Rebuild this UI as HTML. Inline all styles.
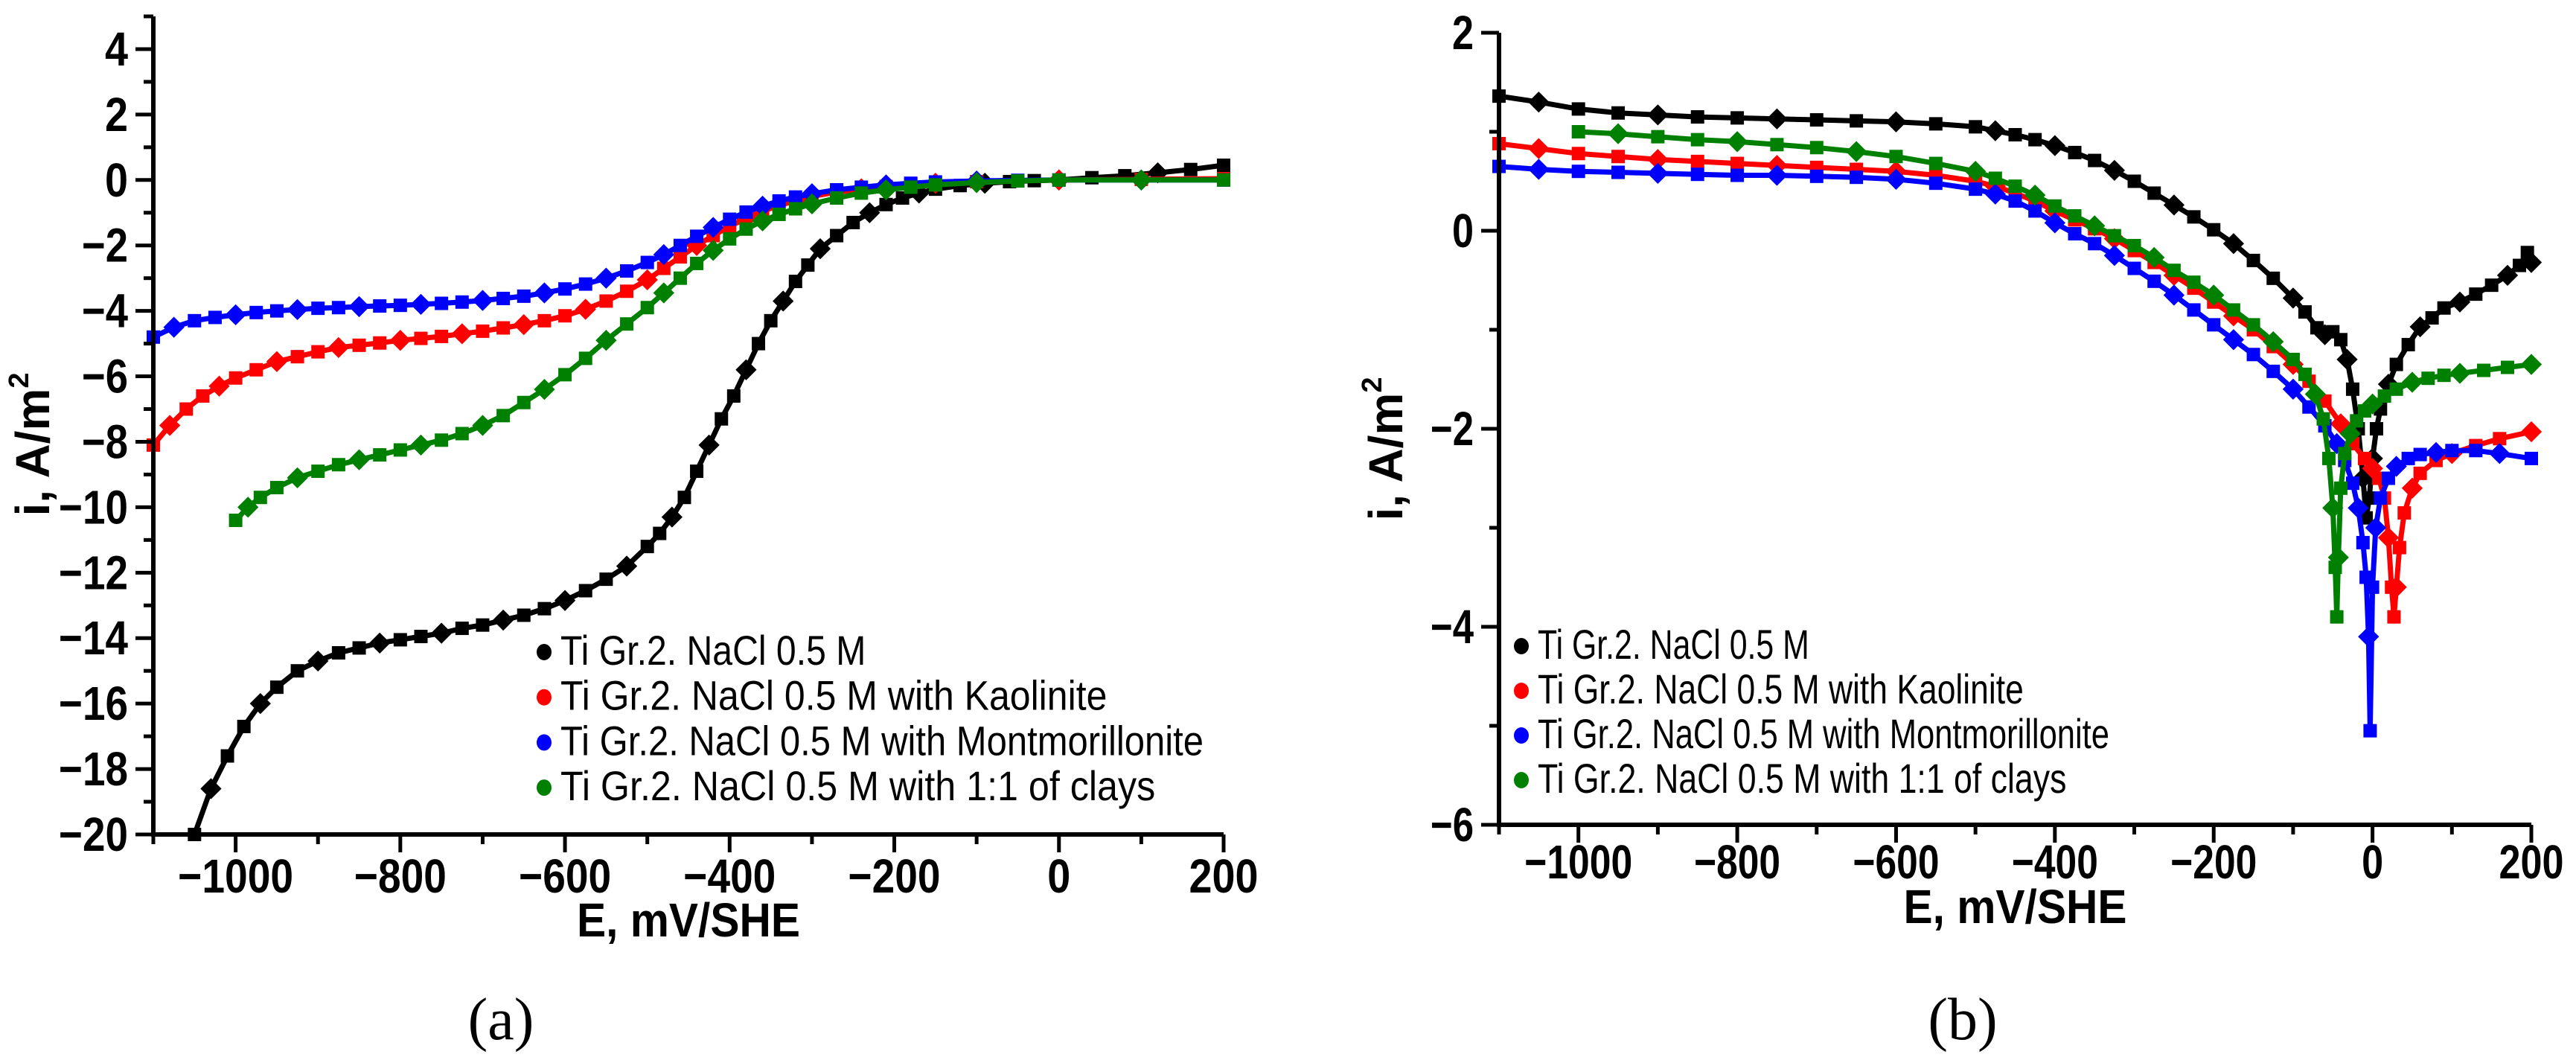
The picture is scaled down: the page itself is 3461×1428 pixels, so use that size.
<!DOCTYPE html>
<html><head><meta charset="utf-8">
<style>
html,body{margin:0;padding:0;background:#fff;}
svg{display:block;}
text{font-family:"Liberation Sans",Arial,sans-serif;}
</style></head>
<body>
<svg id="fig" width="3461" height="1428" viewBox="0 0 3461 1428" xmlns="http://www.w3.org/2000/svg">
<rect width="3461" height="1428" fill="#fff"/>
<g id="chartA"></g>
<g id="chartB"></g>
<text x="673" y="1396" font-size="80" text-anchor="middle" style="font-family:'Liberation Serif',serif">(a)</text>
<text x="2637" y="1396" font-size="80" text-anchor="middle" style="font-family:'Liberation Serif',serif">(b)</text>
</svg>
<script>
// ---- Chart (a) data ----
const aBlackE = [-1050,-1030,-1010,-990,-970,-950,-925,-900,-875,-850,-825,-800,-775,-750,-725,-700,-675,-650,-625,-600,-575,-550,-525,-500,-485,-470,-455,-440,-425,-410,-395,-380,-365,-350,-335,-320,-305,-290,-270,-250,-230,-210,-190,-170,-150,-120,-90,-60,-30,0,40,80,120,160,200];
const aBlackI = [-20,-18.6,-17.6,-16.7,-16.0,-15.5,-15.0,-14.7,-14.45,-14.3,-14.15,-14.05,-13.95,-13.85,-13.7,-13.6,-13.45,-13.3,-13.1,-12.85,-12.55,-12.2,-11.8,-11.2,-10.8,-10.3,-9.7,-8.9,-8.1,-7.3,-6.6,-5.8,-5.0,-4.3,-3.7,-3.1,-2.6,-2.1,-1.7,-1.3,-1.0,-0.75,-0.55,-0.4,-0.28,-0.17,-0.1,-0.05,-0.02,0,0.07,0.13,0.22,0.32,0.45];
const aRedE = [-1100,-1080,-1060,-1040,-1020,-1000,-975,-950,-925,-900,-875,-850,-825,-800,-775,-750,-725,-700,-675,-650,-625,-600,-575,-550,-525,-500,-480,-460,-440,-420,-400,-380,-360,-340,-320,-300,-270,-240,-210,-180,-150,-100,-50,0,100,200];
const aRedI = [-8.1,-7.5,-7.0,-6.6,-6.3,-6.05,-5.8,-5.55,-5.4,-5.25,-5.12,-5.05,-4.98,-4.9,-4.84,-4.78,-4.7,-4.62,-4.52,-4.42,-4.3,-4.15,-3.95,-3.7,-3.4,-3.05,-2.7,-2.35,-2.0,-1.7,-1.42,-1.17,-0.95,-0.78,-0.63,-0.5,-0.37,-0.27,-0.2,-0.14,-0.1,-0.05,-0.02,0,0.02,0.04];
const aBlueE = [-1100,-1075,-1050,-1025,-1000,-975,-950,-925,-900,-875,-850,-825,-800,-775,-750,-725,-700,-675,-650,-625,-600,-575,-550,-525,-500,-480,-460,-440,-420,-400,-380,-360,-340,-320,-300,-270,-240,-210,-180,-150,-100,-50,0,100,200];
const aBlueI = [-4.8,-4.5,-4.3,-4.2,-4.12,-4.05,-4.0,-3.96,-3.92,-3.9,-3.87,-3.85,-3.83,-3.8,-3.77,-3.73,-3.68,-3.62,-3.55,-3.45,-3.33,-3.18,-3.0,-2.78,-2.52,-2.28,-2.0,-1.72,-1.45,-1.2,-0.98,-0.8,-0.64,-0.52,-0.42,-0.3,-0.22,-0.15,-0.1,-0.06,-0.03,-0.01,0,0,0];
const aGreenE = [-1000,-985,-970,-950,-925,-900,-875,-850,-825,-800,-775,-750,-725,-700,-675,-650,-625,-600,-575,-550,-525,-500,-480,-460,-440,-420,-400,-380,-360,-340,-320,-300,-270,-240,-210,-180,-150,-100,-50,0,100,200];
const aGreenI = [-10.4,-10.0,-9.7,-9.4,-9.1,-8.9,-8.7,-8.55,-8.4,-8.25,-8.1,-7.95,-7.75,-7.5,-7.2,-6.8,-6.4,-5.95,-5.45,-4.9,-4.4,-3.9,-3.45,-3.0,-2.55,-2.15,-1.8,-1.5,-1.25,-1.05,-0.88,-0.73,-0.55,-0.4,-0.3,-0.22,-0.15,-0.08,-0.03,0,0,0];
const aXTicks = [-1000,-800,-600,-400,-200,0,200];
const aYTicks = [-20,-18,-16,-14,-12,-10,-8,-6,-4,-2,0,2,4];

// ---- Chart (b) data ----
const bBlackE = [-1100,-1050,-1000,-950,-900,-850,-800,-750,-700,-650,-600,-550,-500,-475,-450,-425,-400,-375,-350,-325,-300,-275,-250,-225,-200,-175,-150,-125,-100,-85,-70,-60,-50,-40,-32,-25,-18,-12,-8,-4,0,5,10,20,30,45,60,75,90,110,130,150,170,185,195,200];
const bBlackI = [1.36,1.3,1.23,1.19,1.17,1.15,1.14,1.13,1.12,1.11,1.1,1.08,1.05,1.01,0.97,0.92,0.86,0.79,0.71,0.61,0.5,0.38,0.26,0.14,0.01,-0.13,-0.3,-0.48,-0.68,-0.82,-0.98,-1.05,-1.02,-1.1,-1.3,-1.6,-2.0,-2.5,-2.9,-2.7,-2.3,-2.0,-1.8,-1.55,-1.35,-1.15,-0.97,-0.88,-0.78,-0.72,-0.64,-0.55,-0.45,-0.35,-0.22,-0.32];
const bRedE = [-1100,-1050,-1000,-950,-900,-850,-800,-750,-700,-650,-600,-550,-500,-475,-450,-425,-400,-375,-350,-325,-300,-275,-250,-225,-200,-175,-150,-125,-100,-80,-60,-40,-25,-10,0,8,15,20,24,27,30,34,40,50,60,80,100,130,160,200];
const bRedI = [0.88,0.83,0.78,0.75,0.72,0.7,0.68,0.66,0.64,0.62,0.6,0.56,0.5,0.45,0.38,0.3,0.2,0.11,0.02,-0.08,-0.2,-0.32,-0.45,-0.58,-0.72,-0.86,-1.0,-1.17,-1.35,-1.52,-1.72,-1.95,-2.15,-2.3,-2.4,-2.5,-2.7,-3.1,-3.6,-3.9,-3.6,-3.2,-2.85,-2.6,-2.45,-2.32,-2.25,-2.17,-2.1,-2.03];
const bBlueE = [-1100,-1050,-1000,-950,-900,-850,-800,-750,-700,-650,-600,-550,-500,-475,-450,-425,-400,-375,-350,-325,-300,-275,-250,-225,-200,-175,-150,-125,-100,-80,-60,-45,-35,-25,-18,-12,-8,-5,-3,0,4,10,20,30,45,60,80,100,130,160,200];
const bBlueI = [0.65,0.62,0.6,0.59,0.58,0.57,0.56,0.56,0.55,0.54,0.52,0.48,0.42,0.37,0.3,0.2,0.08,-0.03,-0.13,-0.25,-0.38,-0.51,-0.65,-0.8,-0.95,-1.1,-1.25,-1.42,-1.6,-1.78,-1.97,-2.15,-2.32,-2.55,-2.8,-3.15,-3.5,-4.1,-5.05,-3.6,-3.0,-2.7,-2.5,-2.38,-2.3,-2.26,-2.24,-2.22,-2.22,-2.25,-2.3];
const bGreenE = [-1000,-950,-900,-850,-800,-750,-700,-650,-600,-550,-500,-475,-450,-425,-400,-375,-350,-325,-300,-275,-250,-225,-200,-175,-150,-125,-100,-85,-72,-62,-55,-50,-47,-45,-43,-40,-35,-28,-20,-10,0,15,30,50,70,90,110,140,170,200];
const bGreenI = [1.0,0.98,0.95,0.92,0.9,0.87,0.84,0.8,0.75,0.68,0.6,0.53,0.45,0.36,0.25,0.15,0.05,-0.05,-0.15,-0.27,-0.4,-0.52,-0.65,-0.8,-0.95,-1.12,-1.3,-1.45,-1.65,-1.9,-2.3,-2.8,-3.4,-3.9,-3.3,-2.6,-2.25,-2.05,-1.92,-1.82,-1.75,-1.67,-1.6,-1.53,-1.49,-1.46,-1.44,-1.41,-1.38,-1.35];
const bXTicks = [-1000,-800,-600,-400,-200,0,200];
const bYTicks = [-6,-4,-2,0,2];

const legendLabels = ["Ti Gr.2. NaCl 0.5 M","Ti Gr.2. NaCl 0.5 M with Kaolinite","Ti Gr.2. NaCl 0.5 M with Montmorillonite","Ti Gr.2. NaCl 0.5 M with 1:1 of clays"];
const colors = ["#000000","#ff0000","#0000ff","#008000"];

const NS = "http://www.w3.org/2000/svg";
function mk(parent, tag, attrs){
  const el = document.createElementNS(NS, tag);
  for (const k in attrs) el.setAttribute(k, attrs[k]);
  parent.appendChild(el);
  return el;
}
function fmt(v){ return v < 0 ? "\u2212" + Math.abs(v) : String(v); }

function drawChart(g, cfg, series){
  const sx = v => cfg.x0 + (v - cfg.xmin) / (cfg.xmax - cfg.xmin) * (cfg.x1 - cfg.x0);
  const sy = v => cfg.y0 + (cfg.ymax - v) / (cfg.ymax - cfg.ymin) * (cfg.y1 - cfg.y0);
  series.forEach((s, si) => {
    const sg = mk(g, "g", {});
    
    
    let d = "";
    s.E.forEach((e, i) => { d += (i ? "L" : "M") + sx(e).toFixed(1) + " " + sy(s.I[i]).toFixed(1); });
    const p = mk(sg, "path", {d: d, fill: "none", stroke: s.color, "stroke-width": 7, "stroke-linejoin": "round"});
    
    
    s.E.forEach((e, i) => {
      const cx = sx(e), cy = sy(s.I[i]);
      const m = (i % 3 === 1)
        ? mk(sg, "rect", {x: cx - 10, y: cy - 10, width: 20, height: 20, fill: s.color, transform: "rotate(45 " + cx + " " + cy + ")"})
        : mk(sg, "rect", {x: cx - 9, y: cy - 9, width: 18, height: 18, fill: s.color});
      
      
    });
  });
  const ax = mk(g, "path", {d: "M" + cfg.x0 + " " + cfg.y0 + "V" + cfg.y1 + "H" + cfg.x1, fill: "none", stroke: "#000", "stroke-width": 6});
  
  
  for (let v = cfg.xmin; v <= cfg.xmax; v += 100) {
    const major = cfg.xTicks.indexOf(v) >= 0;
    const t = mk(g, "line", {x1: sx(v), x2: sx(v), y1: cfg.y1, y2: cfg.y1 + (major ? 24 : 13), stroke: "#000", "stroke-width": 5});
    
    
  }
  cfg.xTicks.forEach(v => {
    const s = fmt(v);
    const t = mk(g, "text", {x: sx(v), y: cfg.xLabelY, "font-size": 64, "font-weight": "bold", "text-anchor": "middle", textLength: s.length * cfg.cw, lengthAdjust: "spacingAndGlyphs"});
    t.textContent = s;
    
    
  });
  for (let v = cfg.ymin; v <= cfg.ymax + 1e-9; v += cfg.yMinorStep) {
    const major = cfg.yTicks.some(t => Math.abs(t - v) < 1e-9);
    const t = mk(g, "line", {x1: cfg.x0 - (major ? 24 : 13), x2: cfg.x0, y1: sy(v), y2: sy(v), stroke: "#000", "stroke-width": 5});
    
    
  }
  cfg.yTicks.forEach(v => {
    const s = fmt(v);
    const t = mk(g, "text", {x: cfg.x0 - 34, y: sy(v) + 22, "font-size": 64, "font-weight": "bold", "text-anchor": "end", textLength: s.length * cfg.cw, lengthAdjust: "spacingAndGlyphs"});
    t.textContent = s;
    
    
  });
  const xt = mk(g, "text", {x: (cfg.x0 + cfg.x1) / 2, y: cfg.xTitleY, "font-size": 64, "font-weight": "bold", "text-anchor": "middle", textLength: 300, lengthAdjust: "spacingAndGlyphs"});
  xt.textContent = "E, mV/SHE";
  
  
  const yt = mk(g, "text", {x: 0, y: 0, "font-size": 64, "font-weight": "bold", "text-anchor": "middle", transform: "translate(" + cfg.yTitleX + " " + cfg.yTitleY + ") rotate(-90)"});
  yt.textContent = "i, A/m";
  const sup = mk(yt, "tspan", {"font-size": 38, dy: -28});
  sup.textContent = "2";
  
  
  legendLabels.forEach((lab, i) => {
    const ly = cfg.legY + i * cfg.legStep;
    const c = mk(g, "ellipse", {cx: cfg.legX, cy: ly - 17, rx: 10, ry: 11, fill: colors[i]});
    
    
    const t = mk(g, "text", {x: cfg.legX + 22, y: ly, "font-size": 56, textLength: lab.length * cfg.legCw, lengthAdjust: "spacingAndGlyphs"});
    t.textContent = lab;
    
    
  });
}

drawChart(document.getElementById("chartA"), {
  x0: 206, x1: 1644, xmin: -1100, xmax: 200,
  y0: 22, y1: 1121, ymin: -20, ymax: 5,
  xTicks: aXTicks, yTicks: aYTicks, yMinorStep: 1,
  xLabelY: 1199, xTitleY: 1258, yTitleX: 66, yTitleY: 597, cw: 31,
  legX: 731, legY: 893, legStep: 60.7, legCw: 21.6
}, [
  {name: "black", E: aBlackE, I: aBlackI, color: colors[0]},
  {name: "red", E: aRedE, I: aRedI, color: colors[1]},
  {name: "blue", E: aBlueE, I: aBlueI, color: colors[2]},
  {name: "green", E: aGreenE, I: aGreenI, color: colors[3]}
]);

drawChart(document.getElementById("chartB"), {
  x0: 2014, x1: 3401, xmin: -1100, xmax: 200,
  y0: 44, y1: 1108, ymin: -6, ymax: 2,
  xTicks: bXTicks, yTicks: bYTicks, yMinorStep: 1,
  xLabelY: 1180, xTitleY: 1240, yTitleX: 1884, yTitleY: 603, cw: 29,
  legX: 2044, legY: 885, legStep: 60, legCw: 19.2
}, [
  {name: "black", E: bBlackE, I: bBlackI, color: colors[0]},
  {name: "red", E: bRedE, I: bRedI, color: colors[1]},
  {name: "blue", E: bBlueE, I: bBlueI, color: colors[2]},
  {name: "green", E: bGreenE, I: bGreenI, color: colors[3]}
]);
</script>
</body></html>
